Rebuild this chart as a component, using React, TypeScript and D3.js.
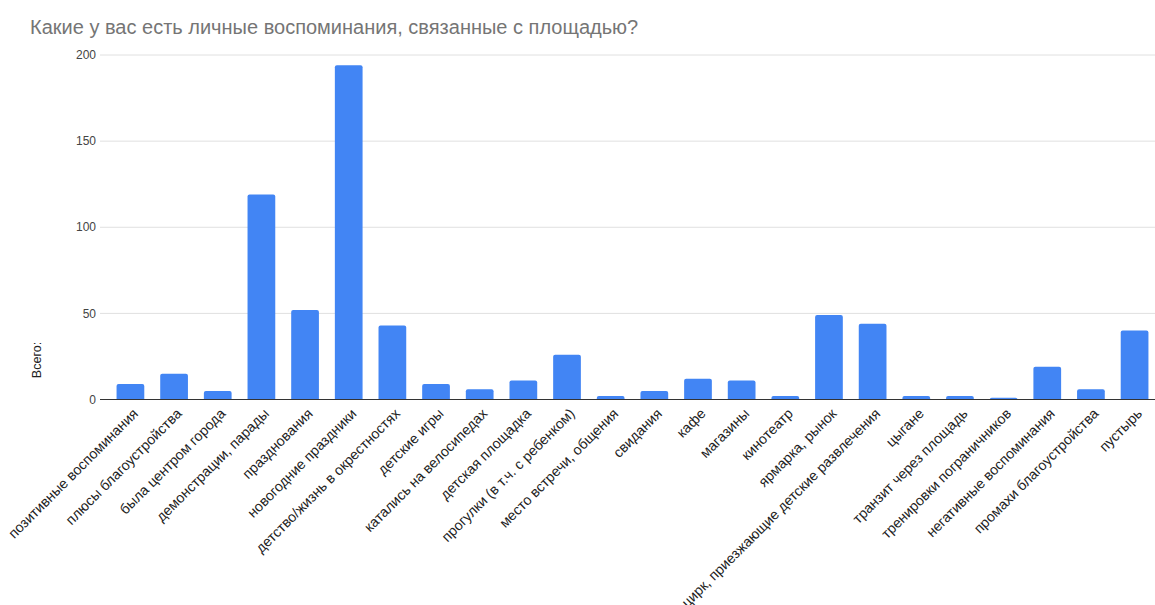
import React from "react";
import * as d3 from "d3";

const categories: string[] = [
  "позитивные воспоминания",
  "плюсы благоустройства",
  "была центром города",
  "демонстрации, парады",
  "празднования",
  "новогодние праздники",
  "детство/жизнь в окрестностях",
  "детские игры",
  "катались на велосипедах",
  "детская площадка",
  "прогулки (в т.ч. с ребенком)",
  "место встречи, общения",
  "свидания",
  "кафе",
  "магазины",
  "кинотеатр",
  "ярмарка, рынок",
  "цирк, приезжающие детские развлечения",
  "цыгане",
  "транзит через площадь",
  "тренировки пограничников",
  "негативные воспоминания",
  "промахи благоустройства",
  "пустырь",
];

const values: number[] = [9, 15, 5, 119, 52, 194, 43, 9, 6, 11, 26, 2, 5, 12, 11, 2, 49, 44, 2, 2, 1, 19, 6, 40];

const yTicks: number[] = [0, 50, 100, 150, 200];

const title = "Какие у вас есть личные воспоминания, связанные с площадью?";
const yTitle = "Всего:";

const W = 1155;
const H = 605;
const FONT = "Arial, 'Liberation Sans', sans-serif";

export default function App() {
  const x = d3
    .scaleBand<string>()
    .domain(categories)
    .range([108.7, 1156.3])
    .paddingInner(0.365)
    .paddingOuter(0.18);
  const y = d3.scaleLinear().domain([0, 200]).range([399.5, 55]);
  const gridLeft = 100;

  return (
    <svg
      width={W}
      height={H}
      style={{ position: "absolute", left: 0, top: 0, background: "#fff" }}
      fontFamily={FONT}
    >
      <text x={30} y={34} fontSize={20} fill="#757575">
        {title}
      </text>
      {yTicks.map((t) => (
        <g key={t}>
          {t !== 0 && (
            <line x1={gridLeft} x2={W} y1={y(t)} y2={y(t)} stroke="#e0e0e0" strokeWidth={1} />
          )}
          <text x={96} y={y(t)} dy="0.35em" textAnchor="end" fontSize={12} fill="#444">
            {t}
          </text>
        </g>
      ))}
      <text
        transform={`translate(41,360) rotate(-90)`}
        textAnchor="middle"
        fontSize={12.5}
        fill="#222"
      >
        {yTitle}
      </text>
      {categories.map((c, i) => {
        const bx = x(c)!;
        const bw = x.bandwidth();
        const top = y(values[i]);
        return (
          <path
            key={c}
            d={`M${bx},${y(0)} V${top + 2} Q${bx},${top} ${bx + 2},${top} H${bx + bw - 2} Q${bx + bw},${top} ${bx + bw},${top + 2} V${y(0)} Z`}
            fill="#4285f4"
          />
        );
      })}
      <line x1={gridLeft} x2={W} y1={y(0)} y2={y(0)} stroke="#333" strokeWidth={1} />
      {categories.map((c) => {
        const cx = x(c)! + x.bandwidth() / 2;
        return (
          <text
            key={c}
            transform={`translate(${cx + 5},${411}) rotate(-45)`}
            textAnchor="end"
            dy="0.35em"
            fontSize={14.2}
            fill="#222"
          >
            {c}
          </text>
        );
      })}
    </svg>
  );
}
